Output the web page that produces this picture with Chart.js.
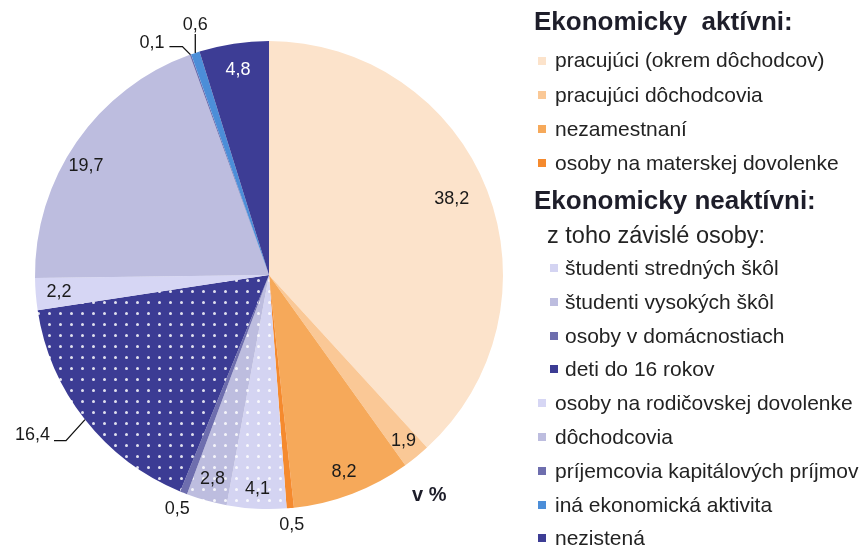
<!DOCTYPE html>
<html><head><meta charset="utf-8">
<script src="https://cdn.jsdelivr.net/npm/chart.js@4.4.1/dist/chart.umd.min.js"></script>
<style>
html,body{margin:0;padding:0;background:#fff;}
#wrap{position:relative;width:868px;height:550px;overflow:hidden;font-family:"Liberation Sans",Arial,sans-serif;}
#c{position:absolute;left:0;top:0;}
.t{position:absolute;white-space:nowrap;line-height:1.117;color:#232323;}
.h{font-weight:bold;font-size:26px;color:#1e1e2a;}
.i{font-size:21px;}
.sw{position:absolute;width:8px;height:8px;}
</style></head><body>
<div id="wrap"><canvas id="c" width="868" height="550"></canvas><div id="leg"></div></div>
<script>
const categories = [
  'pracujúci (okrem dôchodcov)',
  'pracujúci dôchodcovia',
  'nezamestnaní',
  'osoby na materskej dovolenke',
  'študenti stredných škôl',
  'študenti vysokých škôl',
  'osoby v domácnostiach',
  'deti do 16 rokov',
  'osoby na rodičovskej dovolenke',
  'dôchodcovia',
  'príjemcovia kapitálových príjmov',
  'iná ekonomická aktivita',
  'nezistená'
];
const values = [38.2, 1.9, 8.2, 0.5, 4.1, 2.8, 0.5, 16.4, 2.2, 19.7, 0.1, 0.6, 4.8];
const colors = ['#FCE3CB','#FAC896','#F6A95A','#F58A2E','#D4D4F2','#BDBDDF','#6E6EAE','#3C3C94','#D6D6F4','#BDBDDF','#6E6EAE','#4C8ED8','#3D3D95'];
const dotted = [false,false,false,false,true,true,false,true,false,false,false,false,false];
const headings = ['Ekonomicky\u00a0\u00a0aktívni:', 'Ekonomicky neaktívni:'];
const subHeading = 'z toho závislé osoby:';
const unitLabel = 'v %';
const valueLabels = values.map(v => v.toFixed(1).replace('.', ','));

function dotPattern(base) {
  const s = 11, p = document.createElement('canvas');
  p.width = s; p.height = s;
  const g = p.getContext('2d');
  g.fillStyle = base; g.fillRect(0, 0, s, s);
  g.fillStyle = 'rgba(255,255,255,0.85)';
  g.beginPath(); g.arc(5.5, 5.5, 1.5, 0, Math.PI * 2); g.fill();
  return g.createPattern(p, 'repeat');
}
const fills = colors.map((c, i) => dotted[i] ? dotPattern(c) : c);

// label placement: f = radius factor, a = angle shift (deg), leader = relative segments
const placement = [
  {f:0.846, a:-1.4}, {f:0.912}, {f:0.9}, {f:1.073}, {f:0.914}, {f:0.906}, {f:1.073},
  {leader:[[-19,21],[-12,0]], align:'right', gap:4, dy:-6},
  {f:0.9}, {f:0.91, a:-4},
  {leader:[[-8,-8],[-13,0]], align:'right', gap:5, dy:-4},
  {leader:[[0,-19]], align:'center', gap:0, dy:-9},
  {f:0.885, color:'#ffffff'}
];

const labelPlugin = {
  id: 'sliceLabels',
  afterDatasetsDraw(chart) {
    const ctx = chart.ctx;
    const meta = chart.getDatasetMeta(0);
    ctx.save();
    ctx.font = '18px "Liberation Sans", Arial, sans-serif';
    ctx.textBaseline = 'middle';
    meta.data.forEach((arc, i) => {
      const p = placement[i];
      const mid = (arc.startAngle + arc.endAngle) / 2 + ((p.a || 0) * Math.PI / 180);
      const r = arc.outerRadius;
      ctx.fillStyle = p.color || '#1a1a1a';
      if (p.leader) {
        let x = arc.x + r * Math.cos(mid), y = arc.y + r * Math.sin(mid);
        ctx.strokeStyle = '#111'; ctx.lineWidth = 1.3;
        ctx.beginPath(); ctx.moveTo(x, y);
        p.leader.forEach(d => { x += d[0]; y += d[1]; ctx.lineTo(x, y); });
        ctx.stroke();
        ctx.textAlign = p.align;
        ctx.fillText(valueLabels[i], x - p.gap, y + p.dy);
      } else {
        ctx.textAlign = 'center';
        ctx.fillText(valueLabels[i], arc.x + r * p.f * Math.cos(mid), arc.y + r * p.f * Math.sin(mid));
      }
    });
    ctx.restore();
  }
};

new Chart(document.getElementById('c'), {
  type: 'pie',
  data: { labels: categories, datasets: [{ data: values, backgroundColor: fills, borderWidth: 0 }] },
  options: {
    responsive: false, devicePixelRatio: 1, animation: false, events: [],
    layout: { padding: { left: 35, top: 35, bottom: 35, right: 365 } },
    plugins: { legend: { display: false }, tooltip: { enabled: false } }
  },
  plugins: [labelPlugin]
});

// HTML legend
const leg = document.getElementById('leg');
function addText(txt, cls, left, baseline, size, extra) {
  const d = document.createElement('div');
  d.className = 't ' + cls;
  d.textContent = txt;
  d.style.left = left + 'px';
  d.style.top = (baseline - 0.905 * size) + 'px';
  if (extra) Object.assign(d.style, extra);
  leg.appendChild(d);
}
function addSwatch(color, left, baseline) {
  const s = document.createElement('div');
  s.className = 'sw';
  s.style.background = color;
  s.style.left = left + 'px';
  s.style.top = (baseline - 11) + 'px';
  leg.appendChild(s);
}
addText(headings[0], 'h', 534, 31, 26);
addText(headings[1], 'h', 534, 210, 26);
addText(subHeading, 'i', 547, 243, 23.5, {fontSize: '23.5px'});
categories.forEach((c, i) => {
  let sx, tx, b;
  if (i < 4) { sx = 538; tx = 555; b = 67.5 + i * 34.2; }
  else if (i < 8) { sx = 550; tx = 565; b = 275 + (i - 4) * 33.8; }
  else { sx = 538; tx = 555; b = 275 + (i - 4) * 33.8; }
  addSwatch(colors[i], sx, b);
  addText(c, 'i', tx, b, 21);
});
addText(unitLabel, 'h', 412, 501, 20, {fontSize: '20px'});
</script>
</body></html>
